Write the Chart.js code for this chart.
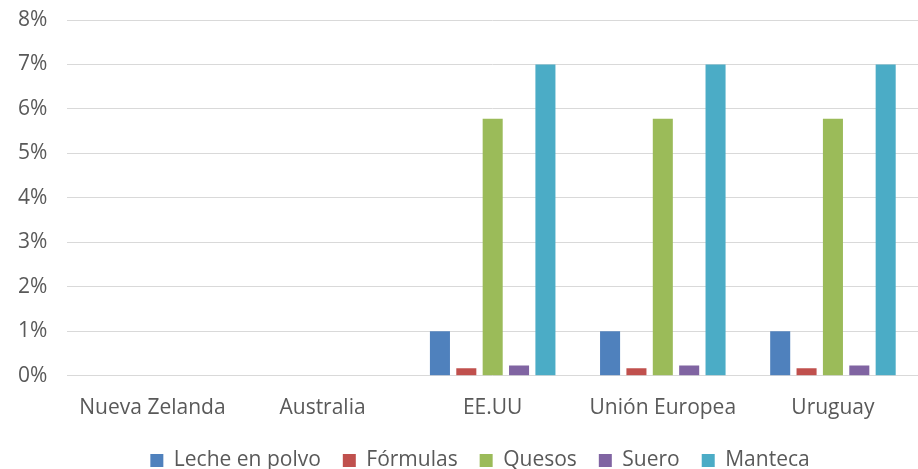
<!DOCTYPE html>
<html>
<head>
<meta charset="utf-8">
<script src="https://cdn.jsdelivr.net/npm/chart.js@4/dist/chart.umd.min.js"></script>
<style>
    html, body { margin: 0; padding: 0; background: #fff; }
    #wrap { width: 918px; height: 469px; }
</style>
</head>
<body>
<div id="wrap"><canvas id="chart" width="918" height="469"></canvas></div>
<script>
const categories = ['Nueva Zelanda', 'Australia', 'EE.UU', 'Unión Europea', 'Uruguay'];

const lecheEnPolvo = [0, 0, 1.0, 1.0, 1.0];
const formulas     = [0, 0, 0.17, 0.17, 0.17];
const quesos       = [0, 0, 5.78, 5.78, 5.78];
const suero        = [0, 0, 0.23, 0.23, 0.23];
const manteca      = [0, 0, 7.0, 7.0, 7.0];

const seriesNames = ['Leche en polvo', 'Fórmulas', 'Quesos', 'Suero', 'Manteca'];
const seriesColors = ['#4F81BD', '#C0504D', '#9BBB59', '#8064A2', '#4BACC6'];
const seriesData = [lecheEnPolvo, formulas, quesos, suero, manteca];

Chart.defaults.font.family = '"Open Sans", Lato, sans-serif';
Chart.defaults.color = '#595959';

// nudge the legend a little to the right, like the original
const legendShift = {
    id: 'legendShift',
    afterLayout(chart) {
        if (chart.legend) {
            chart.legend.left += 22;
            chart.legend.right += 22;
        }
    }
};

const ctx = document.getElementById('chart').getContext('2d');

new Chart(ctx, {
    type: 'bar',
    data: {
        labels: categories,
        datasets: seriesNames.map((name, i) => ({
            label: name,
            data: seriesData[i],
            backgroundColor: seriesColors[i],
            borderWidth: 0,
            categoryPercentage: 0.775,
            barPercentage: 0.76
        }))
    },
    options: {
        responsive: false,
        animation: false,
        layout: { padding: { top: 20, right: 0, left: -2, bottom: -12 } },
        plugins: {
            legend: {
                position: 'bottom',
                labels: {
                    boxWidth: 13,
                    boxHeight: 13,
                    padding: 22,
                    font: { size: 21 },
                    color: '#595959'
                }
            },
            tooltip: { enabled: false }
        },
        scales: {
            x: {
                grid: { display: false },
                border: { display: false },
                afterFit: s => { s.height -= 5; },
                ticks: {
                    font: { size: 21 },
                    color: '#595959',
                    padding: 12
                }
            },
            y: {
                min: 0,
                max: 8,
                grid: { color: '#d9d9d9', lineWidth: 1, drawTicks: false },
                border: { display: false },
                afterFit: s => { s.paddingTop = 0; },
                ticks: {
                    stepSize: 1,
                    padding: 20,
                    font: { size: 21 },
                    color: '#595959',
                    callback: v => v + '%'
                }
            }
        }
    },
    plugins: [legendShift]
});
</script>
</body>
</html>
